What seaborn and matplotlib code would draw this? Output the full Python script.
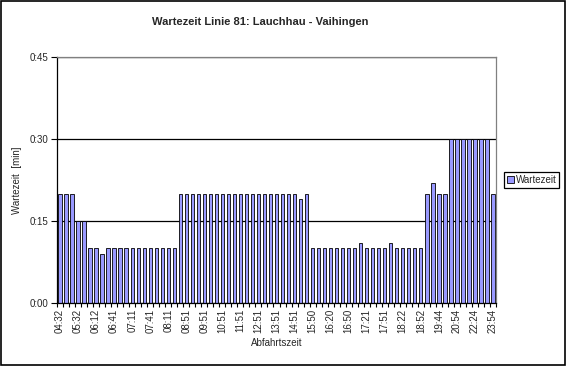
import matplotlib
matplotlib.use('Agg')
import matplotlib.pyplot as plt
import seaborn as sns
from matplotlib.patches import Rectangle
from matplotlib.ticker import FixedLocator, FuncFormatter

# Departure times (Abfahrtszeit) of Linie 81
departures = [
    '04:32', '04:52', '05:12', '05:32', '05:47', '06:02', '06:12', '06:22', '06:31', '06:41',
    '06:51', '07:01', '07:11', '07:21', '07:31', '07:41', '07:51', '08:01', '08:11', '08:21',
    '08:31', '08:51', '09:11', '09:31', '09:51', '10:11', '10:31', '10:51', '11:11', '11:31',
    '11:51', '12:11', '12:31', '12:51', '13:11', '13:31', '13:51', '14:11', '14:31', '14:51',
    '15:11', '15:30', '15:50', '16:00', '16:10', '16:20', '16:30', '16:40', '16:50', '17:00',
    '17:10', '17:21', '17:31', '17:41', '17:51', '18:01', '18:12', '18:22', '18:32', '18:42',
    '18:52', '19:02', '19:22', '19:44', '20:04', '20:24', '20:54', '21:24', '21:54', '22:24',
    '22:54', '23:24', '23:54',
]

# Waiting time until next bus, in minutes
wait_minutes = [
    20, 20, 20, 15, 15, 10, 10, 9, 10, 10,
    10, 10, 10, 10, 10, 10, 10, 10, 10, 10,
    20, 20, 20, 20, 20, 20, 20, 20, 20, 20,
    20, 20, 20, 20, 20, 20, 20, 20, 20, 20,
    19, 20, 10, 10, 10, 10, 10, 10, 10, 10,
    11, 10, 10, 10, 10, 11, 10, 10, 10, 10,
    10, 20, 22, 20, 20, 30, 30, 30, 30, 30,
    30, 30, 20,
]

y_ticks = [0, 15, 30, 45]

sns.set_style('white')
plt.rcParams['font.family'] = ['Liberation Sans', 'DejaVu Sans']
plt.rcParams['font.size'] = 7

fig = plt.figure(figsize=(5.67, 3.66), dpi=100)
ax = fig.add_axes([0.1005, 0.172, 0.7743, 0.6721])

sns.barplot(x=departures, y=wait_minutes, color='#9999FF', saturation=1,
            edgecolor='black', linewidth=0.6, width=0.55, label='Wartezeit', ax=ax)

ax.set_xlim(-0.5, len(departures) - 0.5)
ax.set_ylim(0, 45)

# y axis as h:mm
ax.yaxis.set_major_locator(FixedLocator(y_ticks))
ax.yaxis.set_major_formatter(FuncFormatter(lambda v, p: f'{int(v) // 60}:{int(v) % 60:02d}'))
ax.yaxis.grid(True, color='black', linewidth=0.9)
ax.set_axisbelow(True)

# x labels every third departure, tick marks between categories
ax.set_xticks(range(0, len(departures), 3))
ax.set_xticklabels(departures[::3], rotation=90)
ax.set_xticks([i + 0.5 for i in range(-1, len(departures))], minor=True)
ax.tick_params(axis='x', which='major', length=0, pad=4)
ax.tick_params(axis='x', which='minor', length=3, width=0.8, direction='out', color='black', bottom=True)
ax.tick_params(axis='y', length=4, width=0.8, direction='out', color='black', left=True, pad=2)

for side in ['left', 'bottom']:
    ax.spines[side].set_color('black')
    ax.spines[side].set_linewidth(0.9)
for side in ['top', 'right']:
    ax.spines[side].set_visible(True)
    ax.spines[side].set_color('#808080')
    ax.spines[side].set_linewidth(0.9)

ax.set_xlabel('Abfahrtszeit', fontsize=7, labelpad=4)
ax.set_ylabel('Wartezeit  [min]', fontsize=7, labelpad=6)

fig.text(0.459, 0.94, 'Wartezeit Linie 81: Lauchhau - Vaihingen', ha='center', va='center',
         fontsize=8, fontweight='bold')

if ax.legend_:
    ax.legend_.remove()
handles, labels = ax.get_legend_handles_labels()
leg = fig.legend(handles[:1], labels[:1], loc='center left', bbox_to_anchor=(0.889, 0.508),
                 fancybox=False, edgecolor='black', framealpha=1, fontsize=7,
                 handlelength=0.7, handleheight=0.7, handletextpad=0.2,
                 borderpad=0.3, borderaxespad=0)
leg.get_frame().set_linewidth(0.9)

# outer chart border
fig.patches.append(Rectangle((0.002, 0.003), 0.995, 0.994, transform=fig.transFigure,
                             fill=False, edgecolor='black', linewidth=1.2))

fig.savefig('out.png', dpi=100)
